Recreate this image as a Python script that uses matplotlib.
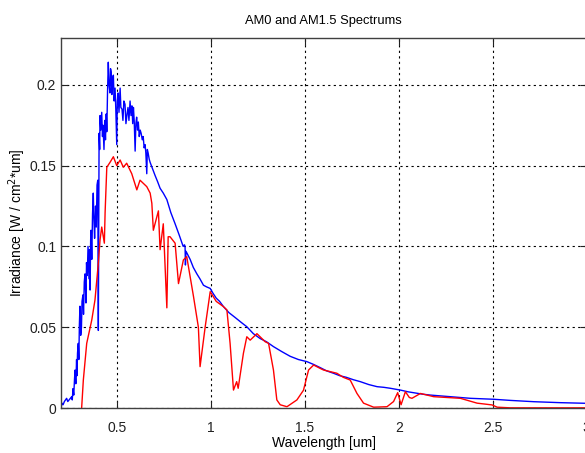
import numpy as np
import matplotlib
matplotlib.use("Agg")
import matplotlib.pyplot as plt

plt.rcParams['font.family'] = ['Liberation Sans', 'DejaVu Sans']

# AM0 (extraterrestrial) spectrum, wavelength in um, irradiance in W/cm^2/um
am0_wl = [0.200, 0.205, 0.211, 0.218, 0.230, 0.236, 0.243, 0.250, 0.257, 0.260,
          0.264, 0.268, 0.272, 0.275, 0.279, 0.283, 0.285, 0.288, 0.292, 0.295,
          0.298, 0.301, 0.305, 0.309, 0.312, 0.317, 0.320, 0.324, 0.328, 0.333,
          0.336, 0.340, 0.344, 0.349, 0.352, 0.355, 0.358, 0.360, 0.364, 0.368,
          0.372, 0.375, 0.379, 0.384, 0.388, 0.392, 0.396, 0.399, 0.403, 0.406,
          0.408, 0.412, 0.417, 0.421, 0.424, 0.429, 0.433, 0.437, 0.441, 0.444,
          0.448, 0.452, 0.456, 0.461, 0.464, 0.467, 0.471, 0.475, 0.479, 0.483,
          0.488, 0.492, 0.497, 0.500, 0.504, 0.509, 0.515, 0.519, 0.525, 0.530,
          0.535, 0.541, 0.546, 0.552, 0.557, 0.562, 0.568, 0.573, 0.578, 0.582,
          0.586, 0.590, 0.595, 0.599, 0.603, 0.608, 0.612, 0.617, 0.622, 0.627,
          0.633, 0.638, 0.643, 0.648, 0.652, 0.657, 0.660, 0.664, 0.670, 0.675,
          0.688, 0.701, 0.715, 0.728, 0.745, 0.764, 0.785, 0.808, 0.830, 0.851,
          0.858, 0.861, 0.863, 0.866, 0.888, 0.905, 0.924, 0.940, 0.959, 0.975,
          0.995, 1.010, 1.027, 1.045, 1.066, 1.095, 1.128, 1.160, 1.190, 1.225,
          1.261, 1.295, 1.332, 1.375, 1.421, 1.465, 1.510, 1.545, 1.581, 1.615,
          1.652, 1.685, 1.720, 1.758, 1.795, 1.840, 1.884, 1.920, 1.955, 2.008,
          2.050, 2.097, 2.130, 2.168, 2.220, 2.275, 2.330, 2.381, 2.440, 2.506,
          2.595, 2.660, 2.719, 2.790, 2.861, 2.930, 3.000]
am0_irr = [0.000, 0.003, 0.002, 0.004, 0.006, 0.004, 0.005, 0.006, 0.007, 0.005,
           0.012, 0.008, 0.018, 0.0235, 0.015, 0.030, 0.020, 0.034, 0.040, 0.030,
           0.052, 0.063, 0.045, 0.050, 0.066, 0.070, 0.058, 0.078, 0.083, 0.065,
           0.090, 0.082, 0.100, 0.080, 0.098, 0.073, 0.104, 0.110, 0.092, 0.120,
           0.133, 0.118, 0.105, 0.125, 0.112, 0.138, 0.141, 0.048, 0.170, 0.160,
           0.181, 0.172, 0.183, 0.168, 0.175, 0.160, 0.178, 0.166, 0.182, 0.171,
           0.196, 0.214, 0.200, 0.195, 0.210, 0.208, 0.194, 0.204, 0.206, 0.190,
           0.198, 0.185, 0.163, 0.190, 0.195, 0.183, 0.198, 0.186, 0.185, 0.178,
           0.190, 0.188, 0.176, 0.182, 0.186, 0.178, 0.190, 0.181, 0.187, 0.176,
           0.186, 0.178, 0.159, 0.176, 0.180, 0.172, 0.177, 0.168, 0.172, 0.170,
           0.166, 0.168, 0.161, 0.163, 0.158, 0.145, 0.160, 0.158, 0.154, 0.152,
           0.148, 0.144, 0.140, 0.136, 0.133, 0.129, 0.121, 0.114, 0.107, 0.100,
           0.101, 0.100, 0.0885, 0.097, 0.092, 0.087, 0.083, 0.080, 0.076, 0.075,
           0.074, 0.071, 0.068, 0.066, 0.0627, 0.059, 0.056, 0.053, 0.0503, 0.046,
           0.043, 0.041, 0.038, 0.035, 0.032, 0.030, 0.0287, 0.027, 0.025, 0.023,
           0.0215, 0.020, 0.019, 0.0175, 0.0163, 0.0145, 0.0132, 0.0128, 0.0122, 0.0111,
           0.0100, 0.0091, 0.0085, 0.008, 0.0075, 0.007, 0.0065, 0.006, 0.0057, 0.0054,
           0.0047, 0.0043, 0.0039, 0.0036, 0.0033, 0.0031, 0.0029]

# AM1.5 (terrestrial) spectrum
am15_wl = [0.310, 0.319, 0.337, 0.364, 0.381, 0.399, 0.408, 0.417, 0.431, 0.435,
           0.444, 0.461, 0.479, 0.497, 0.515, 0.532, 0.550, 0.577, 0.604, 0.621,
           0.657, 0.675, 0.684, 0.692, 0.710, 0.719, 0.728, 0.745, 0.764, 0.771,
           0.781, 0.808, 0.826, 0.852, 0.870, 0.906, 0.932, 0.941, 0.968, 0.995,
           1.027, 1.066, 1.084, 1.101, 1.119, 1.136, 1.144, 1.172, 1.190, 1.208,
           1.244, 1.288, 1.306, 1.332, 1.350, 1.368, 1.404, 1.457, 1.492, 1.519,
           1.546, 1.581, 1.599, 1.635, 1.670, 1.704, 1.741, 1.777, 1.812, 1.866,
           1.937, 1.972, 1.994, 2.012, 2.035, 2.056, 2.070, 2.115, 2.186, 2.328,
           2.417, 2.497, 2.524, 2.595, 3.000]
am15_irr = [0.000, 0.0173, 0.040, 0.0545, 0.0668, 0.0897, 0.104, 0.112, 0.102, 0.121,
            0.149, 0.152, 0.1555, 0.150, 0.1535, 0.149, 0.1515, 0.145, 0.135, 0.141,
            0.137, 0.133, 0.1267, 0.110, 0.118, 0.122, 0.098, 0.114, 0.062, 0.106,
            0.106, 0.102, 0.077, 0.0916, 0.0937, 0.069, 0.050, 0.0256, 0.050, 0.072,
            0.066, 0.0627, 0.0607, 0.040, 0.0111, 0.0163, 0.0122, 0.0339, 0.0441, 0.042,
            0.046, 0.041, 0.040, 0.0235, 0.005, 0.002, 0.0008, 0.005, 0.011, 0.0235,
            0.0266, 0.0245, 0.0235, 0.0225, 0.0215, 0.019, 0.0173, 0.009, 0.003, 0.0005,
            0.0008, 0.004, 0.0095, 0.002, 0.0101, 0.0065, 0.006, 0.009, 0.007, 0.006,
            0.003, 0.0019, 0.0005, 0.0001, 0.0001]

fig = plt.figure(figsize=(5.85, 4.53), dpi=100)
ax = fig.add_axes([61 / 585, 45 / 453, 525.5 / 585, 370 / 453])

ax.plot(am0_wl, am0_irr, color='blue', linewidth=1)
ax.plot(am15_wl, am15_irr, color='red', linewidth=1)

ax.set_xlim(0.2, 3)
ax.set_ylim(0, 0.229)
ax.set_xticks([0.5, 1, 1.5, 2, 2.5, 3])
ax.set_xticklabels(['0.5', '1', '1.5', '2', '2.5', '3'])
ax.set_yticks([0, 0.05, 0.1, 0.15, 0.2])
ax.set_yticklabels(['0', '0.05', '0.1', '0.15', '0.2'])

ax.grid(True, color='black', linestyle=(0, (2, 3)), linewidth=0.8)
ax.tick_params(direction='in', top=True, right=True, length=5, labelsize=10,
               colors='#202020')
ax.tick_params(axis='x', pad=9)
for sp in ax.spines.values():
    sp.set_color('#404040')
    sp.set_linewidth(1.0)

ax.set_title('AM0 and AM1.5 Spectrums', fontsize=9.3, pad=10)
ax.set_xlabel('Wavelength [um]', fontsize=10, labelpad=1)
ax.set_ylabel('Irradiance [W / cm$^2$*um]', fontsize=10, labelpad=1)

fig.savefig('out.png', dpi=100)
